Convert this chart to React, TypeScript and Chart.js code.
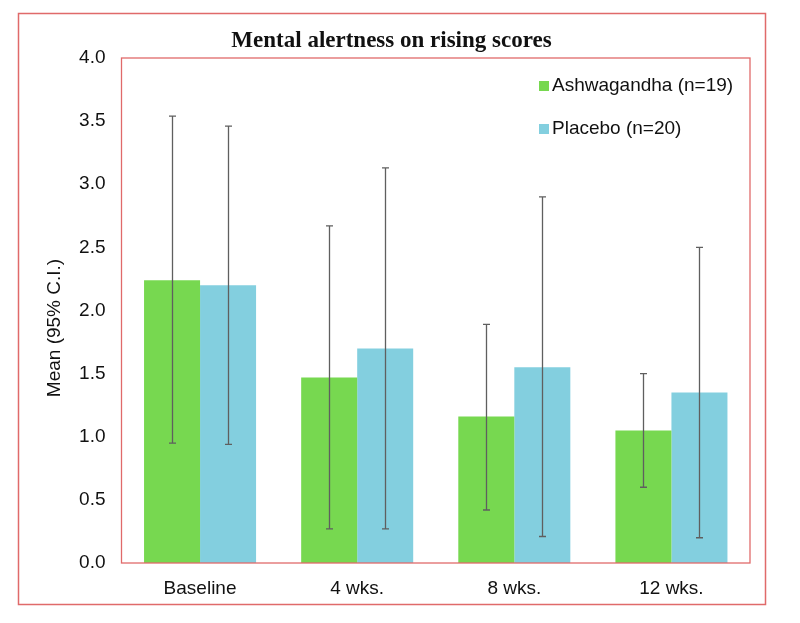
import React, { useEffect, useRef } from "react";
import { Chart, registerables } from "chart.js";

Chart.register(...registerables);

const TITLE = "Mental alertness on rising scores";
const Y_LABEL = "Mean (95% C.I.)";
const CATEGORIES = ["Baseline", "4 wks.", "8 wks.", "12 wks."];
const SERIES_NAMES = ["Ashwagandha (n=19)", "Placebo (n=20)"];
const ASHWA_MEAN = [2.24, 1.47, 1.16, 1.05];
const ASHWA_LOW = [0.95, 0.27, 0.42, 0.6];
const ASHWA_HIGH = [3.54, 2.67, 1.89, 1.5];
const PLACEBO_MEAN = [2.2, 1.7, 1.55, 1.35];
const PLACEBO_LOW = [0.94, 0.27, 0.21, 0.2];
const PLACEBO_HIGH = [3.46, 3.13, 2.9, 2.5];
const Y_MIN = 0;
const Y_MAX = 4;
const Y_STEP = 0.5;

const GREEN = "#77d850";
const BLUE = "#83cfdf";
const RED = "#e06a6a";
const ERR = "#5f5f5f";
const SANS = "'Liberation Sans', Arial, Helvetica, sans-serif";
const SERIF = "'Liberation Serif', 'Times New Roman', serif";

const framePlugin = {
  id: "frame",
  beforeDraw(chart: any) {
    const ctx = chart.ctx;
    ctx.save();
    ctx.fillStyle = "#ffffff";
    ctx.fillRect(0, 0, chart.width, chart.height);
    ctx.strokeStyle = RED;
    ctx.lineWidth = 1.5;
    ctx.strokeRect(18.5, 13.5, 747, 591);
    ctx.fillStyle = "#111";
    ctx.font = `bold 23px ${SERIF}`;
    ctx.textAlign = "center";
    ctx.textBaseline = "alphabetic";
    ctx.fillText(TITLE, 391.5, 47);
    // y axis title
    ctx.save();
    ctx.translate(55, 328);
    ctx.rotate(-Math.PI / 2);
    ctx.font = `19px ${SANS}`;
    ctx.textBaseline = "middle";
    ctx.fillText(Y_LABEL, 0, 0);
    ctx.restore();
    ctx.restore();
  },
  afterDatasetsDraw(chart: any) {
    const ctx = chart.ctx;
    const yScale = chart.scales.y;
    ctx.save();
    ctx.strokeStyle = ERR;
    ctx.lineWidth = 1.3;
    chart.data.datasets.forEach((ds: any, i: number) => {
      const meta = chart.getDatasetMeta(i);
      meta.data.forEach((bar: any, j: number) => {
        const x = Math.round(bar.x) + 0.5;
        const yh = yScale.getPixelForValue(ds.errHigh[j]);
        const yl = yScale.getPixelForValue(ds.errLow[j]);
        ctx.beginPath();
        ctx.moveTo(x, yh);
        ctx.lineTo(x, yl);
        ctx.moveTo(x - 3.5, yh);
        ctx.lineTo(x + 3.5, yh);
        ctx.moveTo(x - 3.5, yl);
        ctx.lineTo(x + 3.5, yl);
        ctx.stroke();
      });
    });
    // inner plot frame
    const a = chart.chartArea;
    ctx.strokeStyle = RED;
    ctx.lineWidth = 1.3;
    ctx.strokeRect(a.left, a.top, a.right - a.left, a.bottom - a.top);
    // legend
    ctx.font = `19px ${SANS}`;
    ctx.textAlign = "left";
    ctx.textBaseline = "middle";
    chart.data.datasets.forEach((ds: any, i: number) => {
      const cy = a.top + 28 + i * 43;
      const sx = a.right - 211;
      ctx.fillStyle = ds.backgroundColor;
      ctx.fillRect(sx, cy - 5, 10, 10);
      ctx.fillStyle = "#111";
      ctx.fillText(ds.label, sx + 13, cy);
    });
    ctx.restore();
  },
};

export default function App() {
  const ref = useRef<HTMLCanvasElement | null>(null);
  useEffect(() => {
    document.body.style.margin = "0";
    const canvas = ref.current;
    if (!canvas) return;
    const chart = new Chart(canvas, {
      type: "bar",
      data: {
        labels: CATEGORIES,
        datasets: [
          {
            label: SERIES_NAMES[0],
            data: ASHWA_MEAN,
            backgroundColor: GREEN,
            errLow: ASHWA_LOW,
            errHigh: ASHWA_HIGH,
            categoryPercentage: 0.713,
            barPercentage: 1.0,
          } as any,
          {
            label: SERIES_NAMES[1],
            data: PLACEBO_MEAN,
            backgroundColor: BLUE,
            errLow: PLACEBO_LOW,
            errHigh: PLACEBO_HIGH,
            categoryPercentage: 0.713,
            barPercentage: 1.0,
          } as any,
        ],
      },
      options: {
        responsive: false,
        animation: false,
        layout: { padding: { left: 0, right: 50, top: 58, bottom: 0 } },
        plugins: {
          legend: { display: false },
          title: { display: false },
          tooltip: { enabled: false },
        },
        scales: {
          x: {
            grid: { display: false, drawTicks: false },
            border: { display: false },
            ticks: {
              color: "#111",
              font: { family: SANS, size: 19 },
              padding: 14,
            },
            afterFit(scale: any) {
              scale.height = 60;
            },
          },
          y: {
            min: Y_MIN,
            max: Y_MAX,
            grid: { display: false, drawTicks: false },
            border: { display: false },
            ticks: {
              stepSize: Y_STEP,
              color: "#111",
              font: { family: SANS, size: 19 },
              padding: 16,
              callback: (v: any) => Number(v).toFixed(1),
            },
            afterFit(scale: any) {
              scale.width = 121.5;
            },
          },
        },
      },
      plugins: [framePlugin],
    });
    return () => chart.destroy();
  }, []);
  return (
    <div style={{ position: "absolute", left: 0, top: 0, width: 800, height: 623 }}>
      <canvas ref={ref} width={800} height={623} />
    </div>
  );
}
